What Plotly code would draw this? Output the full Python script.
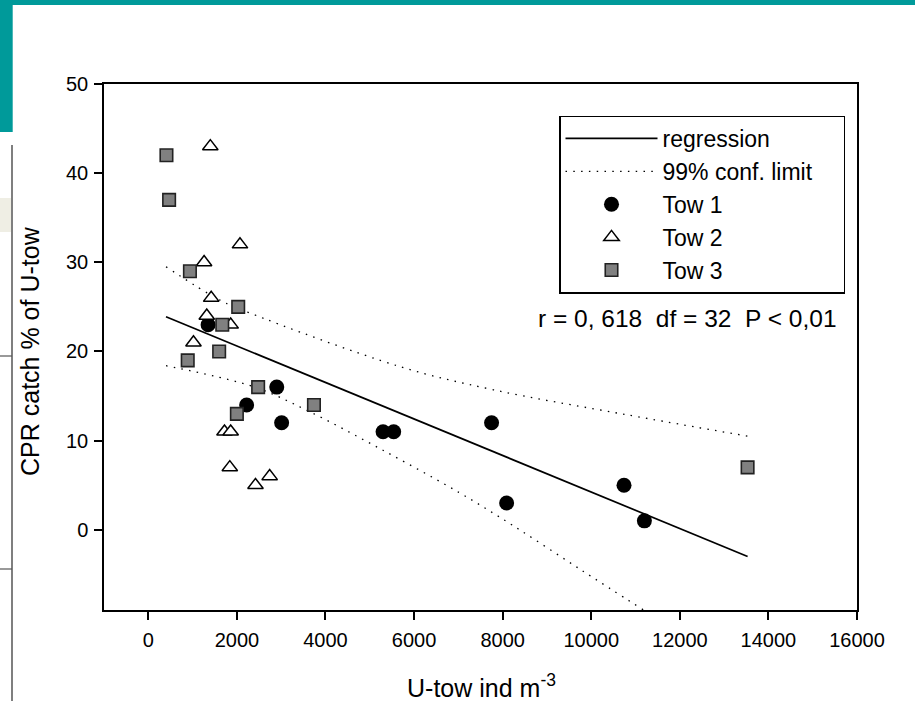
import plotly.graph_objects as go

# ---- data ----
tow1_x = [1350, 2220, 2900, 3010, 5300, 5540, 7750, 8090, 10740, 11200]
tow1_y = [23, 14, 16, 12, 11, 11, 12, 3, 5, 1]
tow2_x = [1400, 2070, 1260, 1420, 1320, 1860, 1020, 1720, 1860, 1840, 2740, 2420]
tow2_y = [43, 32, 30, 26, 24, 23, 21, 11, 11, 7, 6, 5]
tow3_x = [410, 470, 940, 890, 1670, 1600, 2030, 2000, 2480, 3740, 13530]
tow3_y = [42, 37, 29, 19, 23, 20, 25, 13, 16, 14, 7]
reg_x = [400, 13530]
reg_y = [23.9, -3.0]
upper_x = [400, 1620, 2300, 5680, 7790, 10800, 13530]
upper_y = [29.5, 25.75, 24.3, 18.3, 15.7, 12.9, 10.5]
lower_x = [400, 2370, 3580, 5230, 7010, 8240, 9770, 11180]
lower_y = [18.4, 16.05, 13.4, 9.1, 4.2, 0.45, -4.5, -9.0]
x_ticks = [0, 2000, 4000, 6000, 8000, 10000, 12000, 14000, 16000]
y_ticks = [0, 10, 20, 30, 40, 50]
stats_text = "r = 0, 618\u00a0\u00a0df = 32\u00a0\u00a0P < 0,01"

W, H = 915, 701
L, R, T, B = 104, 58, 84, 91
FONT = "Liberation Sans, Arial, sans-serif"
TEAL = "#009a9a"


def px(x):
    return (x - L) / (W - L - R)


def py(y):
    return (H - B - y) / (H - T - B)


fig = go.Figure()
DOT = "1.5px,6.3px"
fig.add_trace(go.Scatter(x=reg_x, y=reg_y, mode="lines", name="regression",
                         line=dict(color="black", width=1.7)))
fig.add_trace(go.Scatter(x=upper_x, y=upper_y, mode="lines",
                         name="99% conf. limit\u00a0\u00a0\u00a0\u00a0",
                         legendgroup="cl", line=dict(color="black", width=1.3, dash=DOT, shape="spline")))
fig.add_trace(go.Scatter(x=lower_x, y=lower_y, mode="lines", name="99% conf. limit",
                         legendgroup="cl", showlegend=False,
                         line=dict(color="black", width=1.3, dash=DOT, shape="spline")))
fig.add_trace(go.Scatter(x=tow1_x, y=tow1_y, mode="markers", name="Tow 1",
                         marker=dict(symbol="circle", size=15, color="black",
                                     line=dict(color="black", width=0))))
fig.add_trace(go.Scatter(x=tow2_x, y=tow2_y, mode="markers", name="Tow 2",
                         marker=dict(symbol="triangle-up", size=13.5, color="white",
                                     line=dict(color="black", width=1.5))))
fig.add_trace(go.Scatter(x=tow3_x, y=tow3_y, mode="markers", name="Tow 3",
                         marker=dict(symbol="square", size=12.5, color="#808080",
                                     line=dict(color="#222222", width=1.6))))

shapes = [
    dict(type="rect", xref="paper", yref="paper", x0=px(0), x1=px(W), y0=py(5), y1=py(0),
         fillcolor=TEAL, line=dict(width=0), layer="above"),
    dict(type="rect", xref="paper", yref="paper", x0=px(0), x1=px(12.7), y0=py(132), y1=py(0),
         fillcolor=TEAL, line=dict(width=0), layer="above"),
    dict(type="line", xref="paper", yref="paper", x0=px(12), x1=px(12), y0=py(145), y1=py(H),
         line=dict(color="#555555", width=1.5)),
    dict(type="line", xref="paper", yref="paper", x0=px(0), x1=px(12), y0=py(356), y1=py(356),
         line=dict(color="#555555", width=1.2)),
    dict(type="line", xref="paper", yref="paper", x0=px(0), x1=px(12), y0=py(569), y1=py(569),
         line=dict(color="#555555", width=1.2)),
    dict(type="rect", xref="paper", yref="paper", x0=px(0), x1=px(11), y0=py(232), y1=py(198),
         fillcolor="#e4e2d2", opacity=0.6, line=dict(width=0)),
]

annotations = [
    dict(text=stats_text, xref="paper", yref="paper", x=px(839), y=py(318),
         xanchor="right", yanchor="middle", showarrow=False,
         font=dict(family=FONT, size=24.5, color="black")),
    dict(text="CPR catch % of U-tow", xref="paper", yref="paper", x=px(30), y=py(351),
         xanchor="center", yanchor="middle", textangle=-90, showarrow=False,
         font=dict(family=FONT, size=25, color="black")),
    dict(text="U-tow ind m<sup>-3</sup>", xref="paper", yref="paper", x=px(481), y=py(686),
         xanchor="center", yanchor="middle", showarrow=False,
         font=dict(family=FONT, size=25, color="black")),
]

axis_common = dict(showline=True, linecolor="black", linewidth=1.5, mirror=True,
                   ticks="outside", ticklen=8, tickwidth=1.5, tickcolor="black",
                   showgrid=False, zeroline=False,
                   tickfont=dict(family=FONT, size=20, color="black"))

fig.update_layout(
    width=W, height=H,
    margin=dict(l=L, r=R, t=T, b=B, autoexpand=False),
    paper_bgcolor="white", plot_bgcolor="white",
    font=dict(family=FONT, color="black"),
    xaxis=dict(range=[-1000, 16000], tickvals=x_ticks, ticktext=[str(v) for v in x_ticks],
               ticklabelstandoff=3, **axis_common),
    yaxis=dict(range=[-9, 50], tickvals=y_ticks, ticktext=[str(v) for v in y_ticks],
               ticklabelstandoff=2, **axis_common),
    showlegend=True,
    legend=dict(x=px(559), y=py(115.5), xanchor="left", yanchor="top",
                bordercolor="black", borderwidth=1.5, bgcolor="white",
                font=dict(family=FONT, size=23, color="black"),
                itemwidth=92, tracegroupgap=0),
    shapes=shapes,
    annotations=annotations,
)

fig.write_html(
    "out.html",
    config={"displayModeBar": False},
    post_script="document.body.style.margin='0';document.body.style.padding='0';"
                "document.documentElement.style.overflow='hidden';",
)
